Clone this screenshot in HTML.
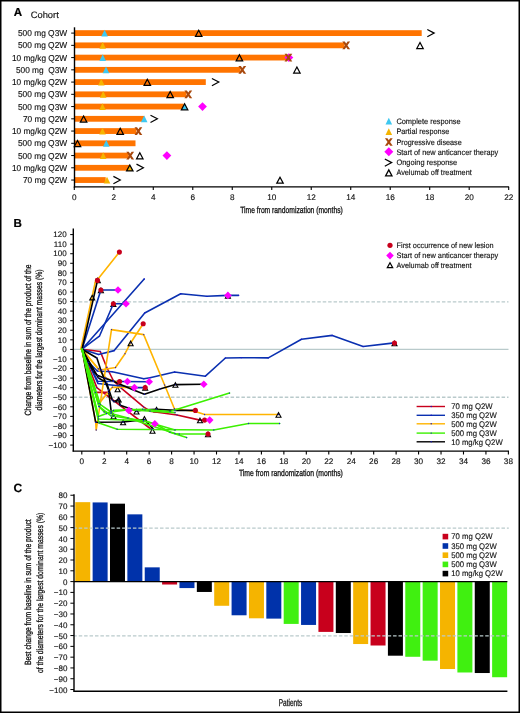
<!DOCTYPE html>
<html><head><meta charset="utf-8"><style>
html,body{margin:0;padding:0;background:#fff;}
svg{display:block;will-change:transform;}
text{font-family:"Liberation Sans", sans-serif;text-rendering:geometricPrecision;}
</style></head><body>
<svg width="520" height="713" viewBox="0 0 520 713">
<rect width="520" height="713" fill="#fff"/>
<text x="13.8" y="15.7" font-size="11.6" font-weight="bold" fill="#000" stroke="#000" stroke-width="0.2" >A</text>
<text x="30.7" y="17.8" font-size="9.3" textLength="28.1" lengthAdjust="spacingAndGlyphs" fill="#111" stroke="#111" stroke-width="0.14" >Cohort</text>
<text x="67.2" y="36.1" font-size="8.6" text-anchor="end" textLength="49.3" lengthAdjust="spacingAndGlyphs" fill="#111" stroke="#111" stroke-width="0.14" >500 mg Q3W</text>
<line x1="71.2" y1="33.1" x2="74.5" y2="33.1" stroke="#000" stroke-width="1.0" />
<text x="67.2" y="48.345" font-size="8.6" text-anchor="end" textLength="49.3" lengthAdjust="spacingAndGlyphs" fill="#111" stroke="#111" stroke-width="0.14" >500 mg Q2W</text>
<line x1="71.2" y1="45.345" x2="74.5" y2="45.345" stroke="#000" stroke-width="1.0" />
<text x="67.2" y="60.59" font-size="8.6" text-anchor="end" textLength="55.3" lengthAdjust="spacingAndGlyphs" fill="#111" stroke="#111" stroke-width="0.14" >10 mg/kg Q2W</text>
<line x1="71.2" y1="57.59" x2="74.5" y2="57.59" stroke="#000" stroke-width="1.0" />
<text x="67.2" y="72.83500000000001" font-size="8.6" text-anchor="end" textLength="51.3" lengthAdjust="spacingAndGlyphs" fill="#111" stroke="#111" stroke-width="0.14" >500 mg&#160; Q3W</text>
<line x1="71.2" y1="69.83500000000001" x2="74.5" y2="69.83500000000001" stroke="#000" stroke-width="1.0" />
<text x="67.2" y="85.08" font-size="8.6" text-anchor="end" textLength="55.3" lengthAdjust="spacingAndGlyphs" fill="#111" stroke="#111" stroke-width="0.14" >10 mg/kg Q2W</text>
<line x1="71.2" y1="82.08" x2="74.5" y2="82.08" stroke="#000" stroke-width="1.0" />
<text x="67.2" y="97.32499999999999" font-size="8.6" text-anchor="end" textLength="49.3" lengthAdjust="spacingAndGlyphs" fill="#111" stroke="#111" stroke-width="0.14" >500 mg Q3W</text>
<line x1="71.2" y1="94.32499999999999" x2="74.5" y2="94.32499999999999" stroke="#000" stroke-width="1.0" />
<text x="67.2" y="109.57" font-size="8.6" text-anchor="end" textLength="49.3" lengthAdjust="spacingAndGlyphs" fill="#111" stroke="#111" stroke-width="0.14" >500 mg Q3W</text>
<line x1="71.2" y1="106.57" x2="74.5" y2="106.57" stroke="#000" stroke-width="1.0" />
<text x="67.2" y="121.815" font-size="8.6" text-anchor="end" textLength="44.3" lengthAdjust="spacingAndGlyphs" fill="#111" stroke="#111" stroke-width="0.14" >70 mg Q2W</text>
<line x1="71.2" y1="118.815" x2="74.5" y2="118.815" stroke="#000" stroke-width="1.0" />
<text x="67.2" y="134.06" font-size="8.6" text-anchor="end" textLength="55.3" lengthAdjust="spacingAndGlyphs" fill="#111" stroke="#111" stroke-width="0.14" >10 mg/kg Q2W</text>
<line x1="71.2" y1="131.06" x2="74.5" y2="131.06" stroke="#000" stroke-width="1.0" />
<text x="67.2" y="146.305" font-size="8.6" text-anchor="end" textLength="49.3" lengthAdjust="spacingAndGlyphs" fill="#111" stroke="#111" stroke-width="0.14" >500 mg Q3W</text>
<line x1="71.2" y1="143.305" x2="74.5" y2="143.305" stroke="#000" stroke-width="1.0" />
<text x="67.2" y="158.54999999999998" font-size="8.6" text-anchor="end" textLength="49.3" lengthAdjust="spacingAndGlyphs" fill="#111" stroke="#111" stroke-width="0.14" >500 mg Q2W</text>
<line x1="71.2" y1="155.54999999999998" x2="74.5" y2="155.54999999999998" stroke="#000" stroke-width="1.0" />
<text x="67.2" y="170.795" font-size="8.6" text-anchor="end" textLength="55.3" lengthAdjust="spacingAndGlyphs" fill="#111" stroke="#111" stroke-width="0.14" >10 mg/kg Q2W</text>
<line x1="71.2" y1="167.795" x2="74.5" y2="167.795" stroke="#000" stroke-width="1.0" />
<text x="67.2" y="183.04" font-size="8.6" text-anchor="end" textLength="44.3" lengthAdjust="spacingAndGlyphs" fill="#111" stroke="#111" stroke-width="0.14" >70 mg Q2W</text>
<line x1="71.2" y1="180.04" x2="74.5" y2="180.04" stroke="#000" stroke-width="1.0" />
<rect x="74.5" y="30.20" width="347.20" height="5.8" fill="#ff7400"/>
<rect x="74.5" y="42.45" width="270.10" height="5.8" fill="#ff7400"/>
<rect x="74.5" y="54.69" width="213.00" height="5.8" fill="#ff7400"/>
<rect x="74.5" y="66.94" width="166.00" height="5.8" fill="#ff7400"/>
<rect x="74.5" y="79.18" width="131.30" height="5.8" fill="#ff7400"/>
<rect x="74.5" y="91.42" width="112.00" height="5.8" fill="#ff7400"/>
<rect x="74.5" y="103.67" width="109.20" height="5.8" fill="#ff7400"/>
<rect x="74.5" y="115.91" width="69.70" height="5.8" fill="#ff7400"/>
<rect x="74.5" y="128.16" width="62.00" height="5.8" fill="#ff7400"/>
<rect x="74.5" y="140.41" width="61.00" height="5.8" fill="#ff7400"/>
<rect x="74.5" y="152.65" width="54.30" height="5.8" fill="#ff7400"/>
<rect x="74.5" y="164.89" width="55.30" height="5.8" fill="#ff7400"/>
<rect x="74.5" y="177.14" width="31.20" height="5.8" fill="#ff7400"/>
<path d="M104.60 29.70L107.90 36.50L101.30 36.50Z" fill="#3ec8f0"/>
<path d="M198.70 30.30L201.90 36.30L195.50 36.30Z" fill="none" stroke="#000" stroke-width="1.25" stroke-linejoin="miter"/>
<path d="M427.30 29.45L434.20 33.10L427.30 36.75" stroke="#000" stroke-width="1.2" fill="none" stroke-linejoin="miter"/>
<path d="M102.70 41.95L106.00 48.74L99.40 48.74Z" fill="#f5b400"/>
<path d="M342.30 41.49L344.80 41.49L350.10 49.20L347.60 49.20ZM347.60 41.49L350.10 41.49L344.80 49.20L342.30 49.20Z" fill="#a8480c"/>
<path d="M420.00 42.55L423.20 48.55L416.80 48.55Z" fill="none" stroke="#000" stroke-width="1.25" stroke-linejoin="miter"/>
<path d="M102.70 54.19L106.00 60.99L99.40 60.99Z" fill="#3ec8f0"/>
<path d="M239.40 54.79L242.60 60.79L236.20 60.79Z" fill="none" stroke="#000" stroke-width="1.25" stroke-linejoin="miter"/>
<path d="M288.90 53.19L293.30 57.59L288.90 61.99L284.50 57.59Z" fill="#ff00ff"/>
<path d="M284.50 53.74L287.00 53.74L292.30 61.44L289.80 61.44ZM289.80 53.74L292.30 53.74L287.00 61.44L284.50 61.44Z" fill="#a8480c"/>
<path d="M106.00 66.44L109.30 73.24L102.70 73.24Z" fill="#3ec8f0"/>
<path d="M238.40 65.99L240.90 65.99L246.20 73.69L243.70 73.69ZM243.70 65.99L246.20 65.99L240.90 73.69L238.40 73.69Z" fill="#a8480c"/>
<path d="M296.90 67.04L300.10 73.04L293.70 73.04Z" fill="none" stroke="#000" stroke-width="1.25" stroke-linejoin="miter"/>
<path d="M101.30 78.68L104.60 85.48L98.00 85.48Z" fill="#f5b400"/>
<path d="M147.30 79.28L150.50 85.28L144.10 85.28Z" fill="none" stroke="#000" stroke-width="1.25" stroke-linejoin="miter"/>
<path d="M211.90 78.43L218.80 82.08L211.90 85.73" stroke="#000" stroke-width="1.2" fill="none" stroke-linejoin="miter"/>
<path d="M103.20 90.92L106.50 97.72L99.90 97.72Z" fill="#f5b400"/>
<path d="M170.20 91.52L173.40 97.52L167.00 97.52Z" fill="none" stroke="#000" stroke-width="1.25" stroke-linejoin="miter"/>
<path d="M184.40 90.47L186.90 90.47L192.20 98.17L189.70 98.17ZM189.70 90.47L192.20 90.47L186.90 98.17L184.40 98.17Z" fill="#a8480c"/>
<path d="M102.50 103.17L105.80 109.97L99.20 109.97Z" fill="#f5b400"/>
<path d="M184.60 103.77L187.80 109.77L181.40 109.77Z" fill="#3ec8f0" stroke="#000" stroke-width="1.25" stroke-linejoin="miter"/>
<path d="M202.50 102.17L206.90 106.57L202.50 110.97L198.10 106.57Z" fill="#ff00ff"/>
<path d="M83.60 116.02L86.80 122.02L80.40 122.02Z" fill="none" stroke="#000" stroke-width="1.25" stroke-linejoin="miter"/>
<path d="M144.20 115.41L147.50 122.22L140.90 122.22Z" fill="#3ec8f0"/>
<path d="M150.50 115.16L157.40 118.81L150.50 122.47" stroke="#000" stroke-width="1.2" fill="none" stroke-linejoin="miter"/>
<path d="M102.50 127.66L105.80 134.46L99.20 134.46Z" fill="#f5b400"/>
<path d="M120.20 128.26L123.40 134.26L117.00 134.26Z" fill="none" stroke="#000" stroke-width="1.25" stroke-linejoin="miter"/>
<path d="M134.50 127.21L137.00 127.21L142.30 134.91L139.80 134.91ZM139.80 127.21L142.30 127.21L137.00 134.91L134.50 134.91Z" fill="#a8480c"/>
<path d="M77.50 140.50L80.70 146.50L74.30 146.50Z" fill="none" stroke="#000" stroke-width="1.25" stroke-linejoin="miter"/>
<path d="M106.30 139.91L109.60 146.71L103.00 146.71Z" fill="#3ec8f0"/>
<path d="M103.20 152.15L106.50 158.95L99.90 158.95Z" fill="#f5b400"/>
<path d="M126.30 151.70L128.80 151.70L134.10 159.40L131.60 159.40ZM131.60 151.70L134.10 151.70L128.80 159.40L126.30 159.40Z" fill="#a8480c"/>
<path d="M139.80 152.75L143.00 158.75L136.60 158.75Z" fill="none" stroke="#000" stroke-width="1.25" stroke-linejoin="miter"/>
<path d="M166.90 151.15L171.30 155.55L166.90 159.95L162.50 155.55Z" fill="#ff00ff"/>
<path d="M129.80 164.99L133.00 170.99L126.60 170.99Z" fill="#f5b400" stroke="#000" stroke-width="1.25" stroke-linejoin="miter"/>
<path d="M136.50 164.14L143.40 167.79L136.50 171.44" stroke="#000" stroke-width="1.2" fill="none" stroke-linejoin="miter"/>
<path d="M107.00 176.64L110.30 183.44L103.70 183.44Z" fill="#f5b400"/>
<path d="M113.40 176.39L120.30 180.04L113.40 183.69" stroke="#000" stroke-width="1.2" fill="none" stroke-linejoin="miter"/>
<path d="M280.00 177.24L283.20 183.24L276.80 183.24Z" fill="none" stroke="#000" stroke-width="1.25" stroke-linejoin="miter"/>
<line x1="74.5" y1="27.3" x2="74.5" y2="187.6" stroke="#000" stroke-width="1.4" />
<line x1="73.8" y1="186.9" x2="509.1" y2="186.9" stroke="#000" stroke-width="1.4" />
<line x1="74.3" y1="186.9" x2="74.3" y2="190.0" stroke="#000" stroke-width="1.1" />
<text x="74.3" y="199.7" font-size="8.2" text-anchor="middle" fill="#111" stroke="#111" stroke-width="0.14" >0</text>
<line x1="113.78999999999999" y1="186.9" x2="113.78999999999999" y2="190.0" stroke="#000" stroke-width="1.1" />
<text x="113.78999999999999" y="199.7" font-size="8.2" text-anchor="middle" fill="#111" stroke="#111" stroke-width="0.14" >2</text>
<line x1="153.28" y1="186.9" x2="153.28" y2="190.0" stroke="#000" stroke-width="1.1" />
<text x="153.28" y="199.7" font-size="8.2" text-anchor="middle" fill="#111" stroke="#111" stroke-width="0.14" >4</text>
<line x1="192.76999999999998" y1="186.9" x2="192.76999999999998" y2="190.0" stroke="#000" stroke-width="1.1" />
<text x="192.76999999999998" y="199.7" font-size="8.2" text-anchor="middle" fill="#111" stroke="#111" stroke-width="0.14" >6</text>
<line x1="232.26" y1="186.9" x2="232.26" y2="190.0" stroke="#000" stroke-width="1.1" />
<text x="232.26" y="199.7" font-size="8.2" text-anchor="middle" fill="#111" stroke="#111" stroke-width="0.14" >8</text>
<line x1="271.75" y1="186.9" x2="271.75" y2="190.0" stroke="#000" stroke-width="1.1" />
<text x="271.75" y="199.7" font-size="8.2" text-anchor="middle" fill="#111" stroke="#111" stroke-width="0.14" >10</text>
<line x1="311.24" y1="186.9" x2="311.24" y2="190.0" stroke="#000" stroke-width="1.1" />
<text x="311.24" y="199.7" font-size="8.2" text-anchor="middle" fill="#111" stroke="#111" stroke-width="0.14" >12</text>
<line x1="350.73" y1="186.9" x2="350.73" y2="190.0" stroke="#000" stroke-width="1.1" />
<text x="350.73" y="199.7" font-size="8.2" text-anchor="middle" fill="#111" stroke="#111" stroke-width="0.14" >14</text>
<line x1="390.22" y1="186.9" x2="390.22" y2="190.0" stroke="#000" stroke-width="1.1" />
<text x="390.22" y="199.7" font-size="8.2" text-anchor="middle" fill="#111" stroke="#111" stroke-width="0.14" >16</text>
<line x1="429.71000000000004" y1="186.9" x2="429.71000000000004" y2="190.0" stroke="#000" stroke-width="1.1" />
<text x="429.71000000000004" y="199.7" font-size="8.2" text-anchor="middle" fill="#111" stroke="#111" stroke-width="0.14" >18</text>
<line x1="469.20000000000005" y1="186.9" x2="469.20000000000005" y2="190.0" stroke="#000" stroke-width="1.1" />
<text x="469.20000000000005" y="199.7" font-size="8.2" text-anchor="middle" fill="#111" stroke="#111" stroke-width="0.14" >20</text>
<line x1="508.69000000000005" y1="186.9" x2="508.69000000000005" y2="190.0" stroke="#000" stroke-width="1.1" />
<text x="508.69000000000005" y="199.7" font-size="8.2" text-anchor="middle" fill="#111" stroke="#111" stroke-width="0.14" >22</text>
<text x="240.2" y="212.8" font-size="9.0" textLength="102.6" lengthAdjust="spacingAndGlyphs" fill="#111" stroke="#111" stroke-width="0.3" >Time from randomization (months)</text>
<path d="M388.80 117.80L392.10 124.60L385.50 124.60Z" fill="#3ec8f0"/>
<text x="396.4" y="123.95" font-size="7.9" textLength="64.3" lengthAdjust="spacingAndGlyphs" fill="#111" stroke="#111" stroke-width="0.14" >Complete response</text>
<path d="M388.80 128.20L392.10 135.00L385.50 135.00Z" fill="#f5b400"/>
<text x="396.4" y="134.35" font-size="7.9" textLength="53.0" lengthAdjust="spacingAndGlyphs" fill="#111" stroke="#111" stroke-width="0.14" >Partial response</text>
<path d="M384.90 138.15L387.40 138.15L392.70 145.85L390.20 145.85ZM390.20 138.15L392.70 138.15L387.40 145.85L384.90 145.85Z" fill="#a8480c"/>
<text x="396.4" y="144.75" font-size="7.9" textLength="65.4" lengthAdjust="spacingAndGlyphs" fill="#111" stroke="#111" stroke-width="0.14" >Progressive disease</text>
<path d="M388.80 147.30L393.30 151.80L388.80 156.30L384.30 151.80Z" fill="#ff00ff"/>
<text x="396.4" y="154.55" font-size="7.9" textLength="101.9" lengthAdjust="spacingAndGlyphs" fill="#111" stroke="#111" stroke-width="0.14" >Start of new anticancer therapy</text>
<path d="M384.80 158.95L391.70 162.60L384.80 166.25" stroke="#000" stroke-width="1.2" fill="none" stroke-linejoin="miter"/>
<text x="396.4" y="165.35" font-size="7.9" textLength="60.8" lengthAdjust="spacingAndGlyphs" fill="#111" stroke="#111" stroke-width="0.14" >Ongoing response</text>
<path d="M388.80 169.90L392.00 175.90L385.60 175.90Z" fill="none" stroke="#000" stroke-width="1.25" stroke-linejoin="miter"/>
<text x="396.4" y="175.45" font-size="7.9" textLength="75.4" lengthAdjust="spacingAndGlyphs" fill="#111" stroke="#111" stroke-width="0.14" >Avelumab off treatment</text>
<text x="13.4" y="227.0" font-size="11.6" font-weight="bold" fill="#000" stroke="#000" stroke-width="0.2" >B</text>
<line x1="73.3" y1="301.86" x2="508.5" y2="301.86" stroke="#b9cacb" stroke-width="1.4" stroke-dasharray="3.5,1.92" stroke-dashoffset="-0.1"/>
<line x1="73.3" y1="397.24" x2="508.5" y2="397.24" stroke="#b9cacb" stroke-width="1.4" stroke-dasharray="3.5,1.92" stroke-dashoffset="-0.1"/>
<line x1="73.3" y1="349.40" x2="508.5" y2="349.40" stroke="#b9cacb" stroke-width="1.3"/>
<line x1="73.3" y1="228.6" x2="73.3" y2="451.6" stroke="#000" stroke-width="1.4" />
<line x1="70.2" y1="234.58399999999997" x2="73.3" y2="234.58399999999997" stroke="#000" stroke-width="1.0" />
<text x="66.6" y="237.33399999999997" font-size="8.0" text-anchor="end" fill="#111" stroke="#111" stroke-width="0.14" >120</text>
<line x1="70.2" y1="244.152" x2="73.3" y2="244.152" stroke="#000" stroke-width="1.0" />
<text x="66.6" y="246.902" font-size="8.0" text-anchor="end" fill="#111" stroke="#111" stroke-width="0.14" >110</text>
<line x1="70.2" y1="253.71999999999997" x2="73.3" y2="253.71999999999997" stroke="#000" stroke-width="1.0" />
<text x="66.6" y="256.46999999999997" font-size="8.0" text-anchor="end" fill="#111" stroke="#111" stroke-width="0.14" >100</text>
<line x1="70.2" y1="263.288" x2="73.3" y2="263.288" stroke="#000" stroke-width="1.0" />
<text x="66.6" y="266.038" font-size="8.0" text-anchor="end" fill="#111" stroke="#111" stroke-width="0.14" >90</text>
<line x1="70.2" y1="272.856" x2="73.3" y2="272.856" stroke="#000" stroke-width="1.0" />
<text x="66.6" y="275.606" font-size="8.0" text-anchor="end" fill="#111" stroke="#111" stroke-width="0.14" >80</text>
<line x1="70.2" y1="282.424" x2="73.3" y2="282.424" stroke="#000" stroke-width="1.0" />
<text x="66.6" y="285.174" font-size="8.0" text-anchor="end" fill="#111" stroke="#111" stroke-width="0.14" >70</text>
<line x1="70.2" y1="291.99199999999996" x2="73.3" y2="291.99199999999996" stroke="#000" stroke-width="1.0" />
<text x="66.6" y="294.74199999999996" font-size="8.0" text-anchor="end" fill="#111" stroke="#111" stroke-width="0.14" >60</text>
<line x1="70.2" y1="301.56" x2="73.3" y2="301.56" stroke="#000" stroke-width="1.0" />
<text x="66.6" y="304.31" font-size="8.0" text-anchor="end" fill="#111" stroke="#111" stroke-width="0.14" >50</text>
<line x1="70.2" y1="311.128" x2="73.3" y2="311.128" stroke="#000" stroke-width="1.0" />
<text x="66.6" y="313.878" font-size="8.0" text-anchor="end" fill="#111" stroke="#111" stroke-width="0.14" >40</text>
<line x1="70.2" y1="320.69599999999997" x2="73.3" y2="320.69599999999997" stroke="#000" stroke-width="1.0" />
<text x="66.6" y="323.44599999999997" font-size="8.0" text-anchor="end" fill="#111" stroke="#111" stroke-width="0.14" >30</text>
<line x1="70.2" y1="330.26399999999995" x2="73.3" y2="330.26399999999995" stroke="#000" stroke-width="1.0" />
<text x="66.6" y="333.01399999999995" font-size="8.0" text-anchor="end" fill="#111" stroke="#111" stroke-width="0.14" >20</text>
<line x1="70.2" y1="339.832" x2="73.3" y2="339.832" stroke="#000" stroke-width="1.0" />
<text x="66.6" y="342.582" font-size="8.0" text-anchor="end" fill="#111" stroke="#111" stroke-width="0.14" >10</text>
<line x1="70.2" y1="349.4" x2="73.3" y2="349.4" stroke="#000" stroke-width="1.0" />
<text x="66.6" y="352.15" font-size="8.0" text-anchor="end" fill="#111" stroke="#111" stroke-width="0.14" >0</text>
<line x1="70.2" y1="358.96799999999996" x2="73.3" y2="358.96799999999996" stroke="#000" stroke-width="1.0" />
<text x="66.6" y="361.71799999999996" font-size="8.0" text-anchor="end" fill="#111" stroke="#111" stroke-width="0.14" >&#8722;10</text>
<line x1="70.2" y1="368.536" x2="73.3" y2="368.536" stroke="#000" stroke-width="1.0" />
<text x="66.6" y="371.286" font-size="8.0" text-anchor="end" fill="#111" stroke="#111" stroke-width="0.14" >&#8722;20</text>
<line x1="70.2" y1="378.104" x2="73.3" y2="378.104" stroke="#000" stroke-width="1.0" />
<text x="66.6" y="380.854" font-size="8.0" text-anchor="end" fill="#111" stroke="#111" stroke-width="0.14" >&#8722;30</text>
<line x1="70.2" y1="387.67199999999997" x2="73.3" y2="387.67199999999997" stroke="#000" stroke-width="1.0" />
<text x="66.6" y="390.42199999999997" font-size="8.0" text-anchor="end" fill="#111" stroke="#111" stroke-width="0.14" >&#8722;40</text>
<line x1="70.2" y1="397.23999999999995" x2="73.3" y2="397.23999999999995" stroke="#000" stroke-width="1.0" />
<text x="66.6" y="399.98999999999995" font-size="8.0" text-anchor="end" fill="#111" stroke="#111" stroke-width="0.14" >&#8722;50</text>
<line x1="70.2" y1="406.808" x2="73.3" y2="406.808" stroke="#000" stroke-width="1.0" />
<text x="66.6" y="409.558" font-size="8.0" text-anchor="end" fill="#111" stroke="#111" stroke-width="0.14" >&#8722;60</text>
<line x1="70.2" y1="416.376" x2="73.3" y2="416.376" stroke="#000" stroke-width="1.0" />
<text x="66.6" y="419.126" font-size="8.0" text-anchor="end" fill="#111" stroke="#111" stroke-width="0.14" >&#8722;70</text>
<line x1="70.2" y1="425.94399999999996" x2="73.3" y2="425.94399999999996" stroke="#000" stroke-width="1.0" />
<text x="66.6" y="428.69399999999996" font-size="8.0" text-anchor="end" fill="#111" stroke="#111" stroke-width="0.14" >&#8722;80</text>
<line x1="70.2" y1="435.51199999999994" x2="73.3" y2="435.51199999999994" stroke="#000" stroke-width="1.0" />
<text x="66.6" y="438.26199999999994" font-size="8.0" text-anchor="end" fill="#111" stroke="#111" stroke-width="0.14" >&#8722;90</text>
<line x1="70.2" y1="445.08" x2="73.3" y2="445.08" stroke="#000" stroke-width="1.0" />
<text x="66.6" y="447.83" font-size="8.0" text-anchor="end" fill="#111" stroke="#111" stroke-width="0.14" >&#8722;100</text>
<line x1="72.6" y1="451.1" x2="509.0" y2="451.1" stroke="#000" stroke-width="1.4" />
<line x1="81.8" y1="451.1" x2="81.8" y2="454.5" stroke="#000" stroke-width="1.1" />
<text x="81.8" y="463.9" font-size="8.2" text-anchor="middle" fill="#111" stroke="#111" stroke-width="0.14" >0</text>
<line x1="104.252" y1="451.1" x2="104.252" y2="454.5" stroke="#000" stroke-width="1.1" />
<text x="104.252" y="463.9" font-size="8.2" text-anchor="middle" fill="#111" stroke="#111" stroke-width="0.14" >2</text>
<line x1="126.70400000000001" y1="451.1" x2="126.70400000000001" y2="454.5" stroke="#000" stroke-width="1.1" />
<text x="126.70400000000001" y="463.9" font-size="8.2" text-anchor="middle" fill="#111" stroke="#111" stroke-width="0.14" >4</text>
<line x1="149.156" y1="451.1" x2="149.156" y2="454.5" stroke="#000" stroke-width="1.1" />
<text x="149.156" y="463.9" font-size="8.2" text-anchor="middle" fill="#111" stroke="#111" stroke-width="0.14" >6</text>
<line x1="171.608" y1="451.1" x2="171.608" y2="454.5" stroke="#000" stroke-width="1.1" />
<text x="171.608" y="463.9" font-size="8.2" text-anchor="middle" fill="#111" stroke="#111" stroke-width="0.14" >8</text>
<line x1="194.06" y1="451.1" x2="194.06" y2="454.5" stroke="#000" stroke-width="1.1" />
<text x="194.06" y="463.9" font-size="8.2" text-anchor="middle" fill="#111" stroke="#111" stroke-width="0.14" >10</text>
<line x1="216.512" y1="451.1" x2="216.512" y2="454.5" stroke="#000" stroke-width="1.1" />
<text x="216.512" y="463.9" font-size="8.2" text-anchor="middle" fill="#111" stroke="#111" stroke-width="0.14" >12</text>
<line x1="238.964" y1="451.1" x2="238.964" y2="454.5" stroke="#000" stroke-width="1.1" />
<text x="238.964" y="463.9" font-size="8.2" text-anchor="middle" fill="#111" stroke="#111" stroke-width="0.14" >14</text>
<line x1="261.416" y1="451.1" x2="261.416" y2="454.5" stroke="#000" stroke-width="1.1" />
<text x="261.416" y="463.9" font-size="8.2" text-anchor="middle" fill="#111" stroke="#111" stroke-width="0.14" >16</text>
<line x1="283.868" y1="451.1" x2="283.868" y2="454.5" stroke="#000" stroke-width="1.1" />
<text x="283.868" y="463.9" font-size="8.2" text-anchor="middle" fill="#111" stroke="#111" stroke-width="0.14" >18</text>
<line x1="306.32" y1="451.1" x2="306.32" y2="454.5" stroke="#000" stroke-width="1.1" />
<text x="306.32" y="463.9" font-size="8.2" text-anchor="middle" fill="#111" stroke="#111" stroke-width="0.14" >20</text>
<line x1="328.772" y1="451.1" x2="328.772" y2="454.5" stroke="#000" stroke-width="1.1" />
<text x="328.772" y="463.9" font-size="8.2" text-anchor="middle" fill="#111" stroke="#111" stroke-width="0.14" >22</text>
<line x1="351.22400000000005" y1="451.1" x2="351.22400000000005" y2="454.5" stroke="#000" stroke-width="1.1" />
<text x="351.22400000000005" y="463.9" font-size="8.2" text-anchor="middle" fill="#111" stroke="#111" stroke-width="0.14" >24</text>
<line x1="373.67600000000004" y1="451.1" x2="373.67600000000004" y2="454.5" stroke="#000" stroke-width="1.1" />
<text x="373.67600000000004" y="463.9" font-size="8.2" text-anchor="middle" fill="#111" stroke="#111" stroke-width="0.14" >26</text>
<line x1="396.12800000000004" y1="451.1" x2="396.12800000000004" y2="454.5" stroke="#000" stroke-width="1.1" />
<text x="396.12800000000004" y="463.9" font-size="8.2" text-anchor="middle" fill="#111" stroke="#111" stroke-width="0.14" >28</text>
<line x1="418.58000000000004" y1="451.1" x2="418.58000000000004" y2="454.5" stroke="#000" stroke-width="1.1" />
<text x="418.58000000000004" y="463.9" font-size="8.2" text-anchor="middle" fill="#111" stroke="#111" stroke-width="0.14" >30</text>
<line x1="441.03200000000004" y1="451.1" x2="441.03200000000004" y2="454.5" stroke="#000" stroke-width="1.1" />
<text x="441.03200000000004" y="463.9" font-size="8.2" text-anchor="middle" fill="#111" stroke="#111" stroke-width="0.14" >32</text>
<line x1="463.48400000000004" y1="451.1" x2="463.48400000000004" y2="454.5" stroke="#000" stroke-width="1.1" />
<text x="463.48400000000004" y="463.9" font-size="8.2" text-anchor="middle" fill="#111" stroke="#111" stroke-width="0.14" >34</text>
<line x1="485.93600000000004" y1="451.1" x2="485.93600000000004" y2="454.5" stroke="#000" stroke-width="1.1" />
<text x="485.93600000000004" y="463.9" font-size="8.2" text-anchor="middle" fill="#111" stroke="#111" stroke-width="0.14" >36</text>
<line x1="508.38800000000003" y1="451.1" x2="508.38800000000003" y2="454.5" stroke="#000" stroke-width="1.1" />
<text x="508.38800000000003" y="463.9" font-size="8.2" text-anchor="middle" fill="#111" stroke="#111" stroke-width="0.14" >38</text>
<text x="238.9" y="476.2" font-size="9.0" textLength="104.0" lengthAdjust="spacingAndGlyphs" fill="#111" stroke="#111" stroke-width="0.3" >Time from randomization (months)</text>
<text x="30.7" y="340.0" font-size="9.0" text-anchor="middle" textLength="151.0" lengthAdjust="spacingAndGlyphs" fill="#111" stroke="#111" stroke-width="0.3" transform="rotate(-90 30.7 340.0)" >Change from baseline in sum of the product of the</text>
<text x="42.2" y="339.9" font-size="9.0" text-anchor="middle" textLength="141.0" lengthAdjust="spacingAndGlyphs" fill="#111" stroke="#111" stroke-width="0.3" transform="rotate(-90 42.2 339.9)" >diameters for the largest dominant masses (%)</text>
<path d="M117.60 387.10L120.10 391.70L115.10 391.70Z" fill="none" stroke="#000" stroke-width="1.1" stroke-linejoin="miter"/>
<path d="M136.50 409.40L139.00 414.00L134.00 414.00Z" fill="none" stroke="#000" stroke-width="1.1" stroke-linejoin="miter"/>
<path d="M156.50 407.30L159.00 411.90L154.00 411.90Z" fill="none" stroke="#000" stroke-width="1.1" stroke-linejoin="miter"/>
<path d="M113.50 414.10L116.00 418.70L111.00 418.70Z" fill="none" stroke="#000" stroke-width="1.1" stroke-linejoin="miter"/>
<path d="M123.10 420.10L125.60 424.70L120.60 424.70Z" fill="none" stroke="#000" stroke-width="1.1" stroke-linejoin="miter"/>
<path d="M144.40 416.60L146.90 421.20L141.90 421.20Z" fill="none" stroke="#000" stroke-width="1.1" stroke-linejoin="miter"/>
<path d="M152.50 428.60L155.00 433.20L150.00 433.20Z" fill="none" stroke="#000" stroke-width="1.1" stroke-linejoin="miter"/>
<path d="M208.00 432.10L210.50 436.70L205.50 436.70Z" fill="none" stroke="#000" stroke-width="1.1" stroke-linejoin="miter"/>
<path d="M145.20 385.70L147.70 390.30L142.70 390.30Z" fill="none" stroke="#000" stroke-width="1.1" stroke-linejoin="miter"/>
<path d="M394.50 341.20L397.00 345.80L392.00 345.80Z" fill="none" stroke="#000" stroke-width="1.1" stroke-linejoin="miter"/>
<path d="M227.90 293.50L230.40 298.10L225.40 298.10Z" fill="none" stroke="#000" stroke-width="1.1" stroke-linejoin="miter"/>
<path d="M100.90 288.10L103.40 292.70L98.40 292.70Z" fill="none" stroke="#000" stroke-width="1.1" stroke-linejoin="miter"/>
<path d="M113.40 301.90L115.90 306.50L110.90 306.50Z" fill="none" stroke="#000" stroke-width="1.1" stroke-linejoin="miter"/>
<path d="M97.80 278.10L100.30 282.70L95.30 282.70Z" fill="none" stroke="#000" stroke-width="1.1" stroke-linejoin="miter"/>
<polyline points="82.0,349.2 100.3,351.5 106.8,367.5 113.3,380.5 121.5,388.4 143.5,406.8 150.0,411.2 177.0,415.0 200.0,420.1 209.7,420.1" fill="none" stroke="#c8001c" stroke-width="1.6" stroke-linejoin="round" stroke-linecap="round"/>
<polyline points="82.0,349.2 96.8,387.6 151.5,429.5" fill="none" stroke="#c8001c" stroke-width="1.6" stroke-linejoin="round" stroke-linecap="round"/>
<polyline points="82.0,349.2 95.5,392.4 108.3,392.4" fill="none" stroke="#c8001c" stroke-width="1.6" stroke-linejoin="round" stroke-linecap="round"/>
<polyline points="82.0,349.2 100.9,290.0 118.0,290.0" fill="none" stroke="#0a30b0" stroke-width="1.6" stroke-linejoin="round" stroke-linecap="round"/>
<polyline points="82.0,349.2 99.4,336.2 113.4,303.8 126.0,303.8" fill="none" stroke="#0a30b0" stroke-width="1.6" stroke-linejoin="round" stroke-linecap="round"/>
<polyline points="82.0,349.2 144.2,279.0" fill="none" stroke="#0a30b0" stroke-width="1.6" stroke-linejoin="round" stroke-linecap="round"/>
<polyline points="82.0,349.2 98.6,354.5 114.2,350.6 144.7,313.0 180.7,293.8 206.7,296.3 227.9,295.4 238.5,295.4" fill="none" stroke="#0a30b0" stroke-width="1.6" stroke-linejoin="round" stroke-linecap="round"/>
<polyline points="82.0,349.2 88.7,362.3 97.3,371.0 112.2,371.8 143.8,378.8 150.0,377.7 174.6,372.0 205.4,376.2 225.4,358.0 241.3,357.7 268.3,357.9 301.5,339.2 332.3,335.4 363.1,346.5 392.3,343.1" fill="none" stroke="#0a30b0" stroke-width="1.6" stroke-linejoin="round" stroke-linecap="round"/>
<polyline points="82.0,349.2 97.7,381.3 119.6,381.5 149.2,381.8" fill="none" stroke="#0a30b0" stroke-width="1.6" stroke-linejoin="round" stroke-linecap="round"/>
<polyline points="82.0,349.2 98.0,383.5 134.4,387.6 145.2,387.6" fill="none" stroke="#0a30b0" stroke-width="1.6" stroke-linejoin="round" stroke-linecap="round"/>
<polyline points="80.8,349.2 95.9,279.2 98.0,279.0 119.4,252.1" fill="none" stroke="#ffb400" stroke-width="1.6" stroke-linejoin="round" stroke-linecap="round"/>
<polyline points="82.0,349.2 95.7,422.3 96.2,430.0 111.5,329.6 143.7,334.6 164.6,385.0 174.4,408.7 195.4,411.5 204.6,414.5 278.5,414.5" fill="none" stroke="#ffb400" stroke-width="1.6" stroke-linejoin="round" stroke-linecap="round"/>
<polyline points="82.0,349.2 98.2,368.8 101.6,369.7 115.5,367.5 125.0,353.7 130.6,343.0 143.2,323.8" fill="none" stroke="#ffb400" stroke-width="1.6" stroke-linejoin="round" stroke-linecap="round"/>
<polyline points="82.0,349.2 99.0,403.4 112.3,387.2 134.4,387.6" fill="none" stroke="#ffb400" stroke-width="1.6" stroke-linejoin="round" stroke-linecap="round"/>
<polyline points="82.0,349.2 98.2,368.8 106.0,377.9 112.9,381.3 118.0,381.5" fill="none" stroke="#ffb400" stroke-width="1.6" stroke-linejoin="round" stroke-linecap="round"/>
<polyline points="82.0,349.2 97.5,280.4" fill="none" stroke="#000" stroke-width="1.6" stroke-linejoin="round" stroke-linecap="round"/>
<polyline points="82.0,349.2 96.9,358.0 100.8,370.1 108.5,390.0 111.2,411.5 113.5,416.0" fill="none" stroke="#000" stroke-width="1.6" stroke-linejoin="round" stroke-linecap="round"/>
<polyline points="82.0,349.2 93.0,371.0 97.3,375.3 104.2,377.9 113.7,381.3 118.3,383.5 132.3,389.6 144.4,394.2 160.0,389.0 175.4,384.6 203.8,384.3" fill="none" stroke="#000" stroke-width="1.6" stroke-linejoin="round" stroke-linecap="round"/>
<polyline points="82.0,349.2 98.5,378.0 106.5,382.6 112.3,400.0 114.0,401.7 118.7,399.3 120.2,405.2 136.9,411.0 145.0,409.8 156.5,409.2 175.0,410.4 195.4,410.4" fill="none" stroke="#000" stroke-width="1.6" stroke-linejoin="round" stroke-linecap="round"/>
<polyline points="82.0,349.2 95.7,422.3 123.1,422.0 144.4,419.6 153.0,428.8" fill="none" stroke="#000" stroke-width="1.6" stroke-linejoin="round" stroke-linecap="round"/>
<polyline points="82.0,349.2 99.0,423.0 117.2,429.2 213.8,430.0 248.5,423.5 279.6,423.5" fill="none" stroke="#3cf000" stroke-width="1.6" stroke-linejoin="round" stroke-linecap="round"/>
<polyline points="82.0,349.2 100.4,404.6 111.0,412.0 128.8,409.8 142.7,409.2 170.0,411.5 229.5,393.1" fill="none" stroke="#3cf000" stroke-width="1.6" stroke-linejoin="round" stroke-linecap="round"/>
<polyline points="82.0,349.2 99.1,406.5 111.0,415.8 143.5,420.7 154.8,423.7 170.0,432.3 186.6,437.6" fill="none" stroke="#3cf000" stroke-width="1.6" stroke-linejoin="round" stroke-linecap="round"/>
<polyline points="82.0,349.2 98.5,416.5 106.5,413.5 113.4,410.4 128.8,409.8 175.0,412.7" fill="none" stroke="#3cf000" stroke-width="1.6" stroke-linejoin="round" stroke-linecap="round"/>
<polyline points="82.0,349.2 99.1,406.5 104.2,411.9 111.0,413.5 128.0,418.0 175.0,433.5 179.2,434.0 208.0,434.0" fill="none" stroke="#3cf000" stroke-width="1.6" stroke-linejoin="round" stroke-linecap="round"/>
<polyline points="82.0,349.2 98.6,419.0 143.5,420.7 175.0,430.0" fill="none" stroke="#3cf000" stroke-width="1.6" stroke-linejoin="round" stroke-linecap="round"/>
<circle cx="100.3" cy="351.5" r="0.65" fill="#1a1acc"/>
<circle cx="106.8" cy="367.5" r="0.65" fill="#1a1acc"/>
<circle cx="113.3" cy="380.5" r="0.65" fill="#1a1acc"/>
<circle cx="121.5" cy="388.4" r="0.65" fill="#1a1acc"/>
<circle cx="143.5" cy="406.8" r="0.65" fill="#1a1acc"/>
<circle cx="150.0" cy="411.2" r="0.65" fill="#1a1acc"/>
<circle cx="177.0" cy="415.0" r="0.65" fill="#1a1acc"/>
<circle cx="200.0" cy="420.1" r="0.65" fill="#1a1acc"/>
<circle cx="209.7" cy="420.1" r="0.65" fill="#1a1acc"/>
<circle cx="96.8" cy="387.6" r="0.65" fill="#1a1acc"/>
<circle cx="151.5" cy="429.5" r="0.65" fill="#1a1acc"/>
<circle cx="95.5" cy="392.4" r="0.65" fill="#1a1acc"/>
<circle cx="108.3" cy="392.4" r="0.65" fill="#1a1acc"/>
<circle cx="100.9" cy="290.0" r="0.65" fill="#1a1acc"/>
<circle cx="118.0" cy="290.0" r="0.65" fill="#1a1acc"/>
<circle cx="99.4" cy="336.2" r="0.65" fill="#1a1acc"/>
<circle cx="113.4" cy="303.8" r="0.65" fill="#1a1acc"/>
<circle cx="126.0" cy="303.8" r="0.65" fill="#1a1acc"/>
<circle cx="144.2" cy="279.0" r="0.65" fill="#1a1acc"/>
<circle cx="98.6" cy="354.5" r="0.65" fill="#1a1acc"/>
<circle cx="114.2" cy="350.6" r="0.65" fill="#1a1acc"/>
<circle cx="144.7" cy="313.0" r="0.65" fill="#1a1acc"/>
<circle cx="180.7" cy="293.8" r="0.65" fill="#1a1acc"/>
<circle cx="206.7" cy="296.3" r="0.65" fill="#1a1acc"/>
<circle cx="227.9" cy="295.4" r="0.65" fill="#1a1acc"/>
<circle cx="238.5" cy="295.4" r="0.65" fill="#1a1acc"/>
<circle cx="88.7" cy="362.3" r="0.65" fill="#1a1acc"/>
<circle cx="97.3" cy="371.0" r="0.65" fill="#1a1acc"/>
<circle cx="112.2" cy="371.8" r="0.65" fill="#1a1acc"/>
<circle cx="143.8" cy="378.8" r="0.65" fill="#1a1acc"/>
<circle cx="150.0" cy="377.7" r="0.65" fill="#1a1acc"/>
<circle cx="174.6" cy="372.0" r="0.65" fill="#1a1acc"/>
<circle cx="205.4" cy="376.2" r="0.65" fill="#1a1acc"/>
<circle cx="225.4" cy="358.0" r="0.65" fill="#1a1acc"/>
<circle cx="241.3" cy="357.7" r="0.65" fill="#1a1acc"/>
<circle cx="268.3" cy="357.9" r="0.65" fill="#1a1acc"/>
<circle cx="301.5" cy="339.2" r="0.65" fill="#1a1acc"/>
<circle cx="332.3" cy="335.4" r="0.65" fill="#1a1acc"/>
<circle cx="363.1" cy="346.5" r="0.65" fill="#1a1acc"/>
<circle cx="392.3" cy="343.1" r="0.65" fill="#1a1acc"/>
<circle cx="97.7" cy="381.3" r="0.65" fill="#1a1acc"/>
<circle cx="119.6" cy="381.5" r="0.65" fill="#1a1acc"/>
<circle cx="149.2" cy="381.8" r="0.65" fill="#1a1acc"/>
<circle cx="98.0" cy="383.5" r="0.65" fill="#1a1acc"/>
<circle cx="134.4" cy="387.6" r="0.65" fill="#1a1acc"/>
<circle cx="145.2" cy="387.6" r="0.65" fill="#1a1acc"/>
<circle cx="95.9" cy="279.2" r="0.65" fill="#1a1acc"/>
<circle cx="98.0" cy="279.0" r="0.65" fill="#1a1acc"/>
<circle cx="119.4" cy="252.1" r="0.65" fill="#1a1acc"/>
<circle cx="95.7" cy="422.3" r="0.65" fill="#1a1acc"/>
<circle cx="96.2" cy="430.0" r="0.65" fill="#1a1acc"/>
<circle cx="111.5" cy="329.6" r="0.65" fill="#1a1acc"/>
<circle cx="143.7" cy="334.6" r="0.65" fill="#1a1acc"/>
<circle cx="164.6" cy="385.0" r="0.65" fill="#1a1acc"/>
<circle cx="174.4" cy="408.7" r="0.65" fill="#1a1acc"/>
<circle cx="195.4" cy="411.5" r="0.65" fill="#1a1acc"/>
<circle cx="204.6" cy="414.5" r="0.65" fill="#1a1acc"/>
<circle cx="278.5" cy="414.5" r="0.65" fill="#1a1acc"/>
<circle cx="98.2" cy="368.8" r="0.65" fill="#1a1acc"/>
<circle cx="101.6" cy="369.7" r="0.65" fill="#1a1acc"/>
<circle cx="115.5" cy="367.5" r="0.65" fill="#1a1acc"/>
<circle cx="125.0" cy="353.7" r="0.65" fill="#1a1acc"/>
<circle cx="130.6" cy="343.0" r="0.65" fill="#1a1acc"/>
<circle cx="143.2" cy="323.8" r="0.65" fill="#1a1acc"/>
<circle cx="99.0" cy="403.4" r="0.65" fill="#1a1acc"/>
<circle cx="112.3" cy="387.2" r="0.65" fill="#1a1acc"/>
<circle cx="134.4" cy="387.6" r="0.65" fill="#1a1acc"/>
<circle cx="98.2" cy="368.8" r="0.65" fill="#1a1acc"/>
<circle cx="106.0" cy="377.9" r="0.65" fill="#1a1acc"/>
<circle cx="112.9" cy="381.3" r="0.65" fill="#1a1acc"/>
<circle cx="118.0" cy="381.5" r="0.65" fill="#1a1acc"/>
<circle cx="97.5" cy="280.4" r="0.65" fill="#1a1acc"/>
<circle cx="96.9" cy="358.0" r="0.65" fill="#1a1acc"/>
<circle cx="100.8" cy="370.1" r="0.65" fill="#1a1acc"/>
<circle cx="108.5" cy="390.0" r="0.65" fill="#1a1acc"/>
<circle cx="111.2" cy="411.5" r="0.65" fill="#1a1acc"/>
<circle cx="113.5" cy="416.0" r="0.65" fill="#1a1acc"/>
<circle cx="93.0" cy="371.0" r="0.65" fill="#1a1acc"/>
<circle cx="97.3" cy="375.3" r="0.65" fill="#1a1acc"/>
<circle cx="104.2" cy="377.9" r="0.65" fill="#1a1acc"/>
<circle cx="113.7" cy="381.3" r="0.65" fill="#1a1acc"/>
<circle cx="118.3" cy="383.5" r="0.65" fill="#1a1acc"/>
<circle cx="132.3" cy="389.6" r="0.65" fill="#1a1acc"/>
<circle cx="144.4" cy="394.2" r="0.65" fill="#1a1acc"/>
<circle cx="160.0" cy="389.0" r="0.65" fill="#1a1acc"/>
<circle cx="175.4" cy="384.6" r="0.65" fill="#1a1acc"/>
<circle cx="203.8" cy="384.3" r="0.65" fill="#1a1acc"/>
<circle cx="98.5" cy="378.0" r="0.65" fill="#1a1acc"/>
<circle cx="106.5" cy="382.6" r="0.65" fill="#1a1acc"/>
<circle cx="112.3" cy="400.0" r="0.65" fill="#1a1acc"/>
<circle cx="114.0" cy="401.7" r="0.65" fill="#1a1acc"/>
<circle cx="118.7" cy="399.3" r="0.65" fill="#1a1acc"/>
<circle cx="120.2" cy="405.2" r="0.65" fill="#1a1acc"/>
<circle cx="136.9" cy="411.0" r="0.65" fill="#1a1acc"/>
<circle cx="145.0" cy="409.8" r="0.65" fill="#1a1acc"/>
<circle cx="156.5" cy="409.2" r="0.65" fill="#1a1acc"/>
<circle cx="175.0" cy="410.4" r="0.65" fill="#1a1acc"/>
<circle cx="195.4" cy="410.4" r="0.65" fill="#1a1acc"/>
<circle cx="95.7" cy="422.3" r="0.65" fill="#1a1acc"/>
<circle cx="123.1" cy="422.0" r="0.65" fill="#1a1acc"/>
<circle cx="144.4" cy="419.6" r="0.65" fill="#1a1acc"/>
<circle cx="153.0" cy="428.8" r="0.65" fill="#1a1acc"/>
<circle cx="99.0" cy="423.0" r="0.65" fill="#1a1acc"/>
<circle cx="117.2" cy="429.2" r="0.65" fill="#1a1acc"/>
<circle cx="213.8" cy="430.0" r="0.65" fill="#1a1acc"/>
<circle cx="248.5" cy="423.5" r="0.65" fill="#1a1acc"/>
<circle cx="279.6" cy="423.5" r="0.65" fill="#1a1acc"/>
<circle cx="100.4" cy="404.6" r="0.65" fill="#1a1acc"/>
<circle cx="111.0" cy="412.0" r="0.65" fill="#1a1acc"/>
<circle cx="128.8" cy="409.8" r="0.65" fill="#1a1acc"/>
<circle cx="142.7" cy="409.2" r="0.65" fill="#1a1acc"/>
<circle cx="170.0" cy="411.5" r="0.65" fill="#1a1acc"/>
<circle cx="229.5" cy="393.1" r="0.65" fill="#1a1acc"/>
<circle cx="99.1" cy="406.5" r="0.65" fill="#1a1acc"/>
<circle cx="111.0" cy="415.8" r="0.65" fill="#1a1acc"/>
<circle cx="143.5" cy="420.7" r="0.65" fill="#1a1acc"/>
<circle cx="154.8" cy="423.7" r="0.65" fill="#1a1acc"/>
<circle cx="170.0" cy="432.3" r="0.65" fill="#1a1acc"/>
<circle cx="186.6" cy="437.6" r="0.65" fill="#1a1acc"/>
<circle cx="98.5" cy="416.5" r="0.65" fill="#1a1acc"/>
<circle cx="106.5" cy="413.5" r="0.65" fill="#1a1acc"/>
<circle cx="113.4" cy="410.4" r="0.65" fill="#1a1acc"/>
<circle cx="128.8" cy="409.8" r="0.65" fill="#1a1acc"/>
<circle cx="175.0" cy="412.7" r="0.65" fill="#1a1acc"/>
<circle cx="99.1" cy="406.5" r="0.65" fill="#1a1acc"/>
<circle cx="104.2" cy="411.9" r="0.65" fill="#1a1acc"/>
<circle cx="111.0" cy="413.5" r="0.65" fill="#1a1acc"/>
<circle cx="128.0" cy="418.0" r="0.65" fill="#1a1acc"/>
<circle cx="175.0" cy="433.5" r="0.65" fill="#1a1acc"/>
<circle cx="179.2" cy="434.0" r="0.65" fill="#1a1acc"/>
<circle cx="208.0" cy="434.0" r="0.65" fill="#1a1acc"/>
<circle cx="98.6" cy="419.0" r="0.65" fill="#1a1acc"/>
<circle cx="143.5" cy="420.7" r="0.65" fill="#1a1acc"/>
<circle cx="175.0" cy="430.0" r="0.65" fill="#1a1acc"/>
<path d="M92.20 295.30L94.70 299.90L89.70 299.90Z" fill="none" stroke="#000" stroke-width="1.1" stroke-linejoin="miter"/>
<path d="M130.60 341.10L133.10 345.70L128.10 345.70Z" fill="none" stroke="#000" stroke-width="1.1" stroke-linejoin="miter"/>
<path d="M175.40 382.70L177.90 387.30L172.90 387.30Z" fill="none" stroke="#000" stroke-width="1.1" stroke-linejoin="miter"/>
<path d="M278.50 412.60L281.00 417.20L276.00 417.20Z" fill="none" stroke="#000" stroke-width="1.1" stroke-linejoin="miter"/>
<path d="M118.70 397.40L121.20 402.00L116.20 402.00Z" fill="none" stroke="#000" stroke-width="1.1" stroke-linejoin="miter"/>
<path d="M200.00 418.20L202.50 422.80L197.50 422.80Z" fill="none" stroke="#000" stroke-width="1.1" stroke-linejoin="miter"/>
<circle cx="119.40" cy="252.10" r="2.55" fill="#c8001c"/>
<circle cx="97.50" cy="280.40" r="2.55" fill="#c8001c"/>
<circle cx="100.90" cy="290.00" r="2.55" fill="#c8001c"/>
<circle cx="113.40" cy="303.80" r="2.55" fill="#c8001c"/>
<circle cx="143.20" cy="323.80" r="2.55" fill="#c8001c"/>
<circle cx="119.60" cy="381.50" r="2.55" fill="#c8001c"/>
<circle cx="145.20" cy="387.60" r="2.55" fill="#c8001c"/>
<circle cx="195.40" cy="410.40" r="2.55" fill="#c8001c"/>
<circle cx="204.60" cy="420.10" r="2.55" fill="#c8001c"/>
<circle cx="208.00" cy="434.00" r="2.55" fill="#c8001c"/>
<circle cx="394.50" cy="343.10" r="2.55" fill="#c8001c"/>
<path d="M118.00 286.20L121.80 290.00L118.00 293.80L114.20 290.00Z" fill="#ff00ff"/>
<path d="M126.00 300.00L129.80 303.80L126.00 307.60L122.20 303.80Z" fill="#ff00ff"/>
<path d="M227.90 291.60L231.70 295.40L227.90 299.20L224.10 295.40Z" fill="#ff00ff"/>
<path d="M127.40 377.70L131.20 381.50L127.40 385.30L123.60 381.50Z" fill="#ff00ff"/>
<path d="M149.20 378.00L153.00 381.80L149.20 385.60L145.40 381.80Z" fill="#ff00ff"/>
<path d="M134.40 383.80L138.20 387.60L134.40 391.40L130.60 387.60Z" fill="#ff00ff"/>
<path d="M203.80 380.50L207.60 384.30L203.80 388.10L200.00 384.30Z" fill="#ff00ff"/>
<path d="M128.80 406.60L132.60 410.40L128.80 414.20L125.00 410.40Z" fill="#ff00ff"/>
<path d="M154.80 419.90L158.60 423.70L154.80 427.50L151.00 423.70Z" fill="#ff00ff"/>
<path d="M209.70 416.30L213.50 420.10L209.70 423.90L205.90 420.10Z" fill="#ff00ff"/>
<circle cx="390.00" cy="245.30" r="2.6" fill="#c8001c"/>
<text x="396.6" y="248.0" font-size="7.8" textLength="97.0" lengthAdjust="spacingAndGlyphs" fill="#111" stroke="#111" stroke-width="0.14" >First occurrence of new lesion</text>
<path d="M390.00 251.80L393.80 255.60L390.00 259.40L386.20 255.60Z" fill="#ff00ff"/>
<text x="396.6" y="258.3" font-size="7.8" textLength="101.6" lengthAdjust="spacingAndGlyphs" fill="#111" stroke="#111" stroke-width="0.14" >Start of new anticancer therapy</text>
<path d="M390.00 262.70L392.70 267.70L387.30 267.70Z" fill="none" stroke="#000" stroke-width="1.2" stroke-linejoin="miter"/>
<text x="396.6" y="267.7" font-size="7.8" textLength="75.0" lengthAdjust="spacingAndGlyphs" fill="#111" stroke="#111" stroke-width="0.14" >Avelumab off treatment</text>
<line x1="416.6" y1="406.5" x2="445" y2="406.5" stroke="#c8001c" stroke-width="1.4" />
<circle cx="431.2" cy="406.5" r="0.7" fill="#1010c0"/>
<text x="451.2" y="409.35" font-size="8.1" textLength="41.5" lengthAdjust="spacingAndGlyphs" fill="#111" stroke="#111" stroke-width="0.14" >70 mg Q2W</text>
<line x1="416.6" y1="415.3" x2="445" y2="415.3" stroke="#0a30b0" stroke-width="1.4" />
<circle cx="431.2" cy="415.3" r="0.7" fill="#1010c0"/>
<text x="451.2" y="418.15000000000003" font-size="8.1" textLength="45.5" lengthAdjust="spacingAndGlyphs" fill="#111" stroke="#111" stroke-width="0.14" >350 mg Q2W</text>
<line x1="416.6" y1="423.8" x2="445" y2="423.8" stroke="#ffb400" stroke-width="1.4" />
<circle cx="431.2" cy="423.8" r="0.7" fill="#1010c0"/>
<text x="451.2" y="426.65000000000003" font-size="8.1" textLength="45.5" lengthAdjust="spacingAndGlyphs" fill="#111" stroke="#111" stroke-width="0.14" >500 mg Q2W</text>
<line x1="416.6" y1="433.1" x2="445" y2="433.1" stroke="#3cf000" stroke-width="1.4" />
<circle cx="431.2" cy="433.1" r="0.7" fill="#1010c0"/>
<text x="451.2" y="435.95000000000005" font-size="8.1" textLength="45.5" lengthAdjust="spacingAndGlyphs" fill="#111" stroke="#111" stroke-width="0.14" >500 mg Q3W</text>
<line x1="416.6" y1="441.8" x2="445" y2="441.8" stroke="#000" stroke-width="1.4" />
<circle cx="431.2" cy="441.8" r="0.7" fill="#1010c0"/>
<text x="451.2" y="444.65000000000003" font-size="8.1" textLength="51.5" lengthAdjust="spacingAndGlyphs" fill="#111" stroke="#111" stroke-width="0.14" >10 mg/kg Q2W</text>
<text x="13.5" y="491.7" font-size="12.0" font-weight="bold" fill="#000" stroke="#000" stroke-width="0.2" >C</text>
<rect x="75.25" y="502.16" width="15.0" height="79.44" fill="#f5b400"/>
<rect x="92.62" y="502.43" width="15.0" height="79.17" fill="#0032aa"/>
<rect x="109.99" y="503.67" width="15.0" height="77.93" fill="#000"/>
<rect x="127.36" y="514.35" width="15.0" height="67.25" fill="#0032aa"/>
<rect x="144.73" y="567.35" width="15.0" height="14.25" fill="#0032aa"/>
<rect x="162.10" y="581.60" width="15.0" height="2.91" fill="#c8001c"/>
<rect x="179.47" y="581.60" width="15.0" height="6.48" fill="#0032aa"/>
<rect x="196.84" y="581.60" width="15.0" height="10.36" fill="#000"/>
<rect x="214.21" y="581.60" width="15.0" height="24.18" fill="#f5b400"/>
<rect x="231.58" y="581.60" width="15.0" height="33.68" fill="#0032aa"/>
<rect x="248.95" y="581.60" width="15.0" height="36.70" fill="#f5b400"/>
<rect x="266.32" y="581.60" width="15.0" height="37.02" fill="#0032aa"/>
<rect x="283.69" y="581.60" width="15.0" height="42.31" fill="#40f010"/>
<rect x="301.06" y="581.60" width="15.0" height="43.34" fill="#0032aa"/>
<rect x="318.43" y="581.60" width="15.0" height="50.30" fill="#c8001c"/>
<rect x="335.80" y="581.60" width="15.0" height="51.43" fill="#000"/>
<rect x="353.17" y="581.60" width="15.0" height="62.44" fill="#f5b400"/>
<rect x="370.54" y="581.60" width="15.0" height="63.90" fill="#c8001c"/>
<rect x="387.91" y="581.60" width="15.0" height="74.10" fill="#000"/>
<rect x="405.28" y="581.60" width="15.0" height="75.18" fill="#40f010"/>
<rect x="422.65" y="581.60" width="15.0" height="79.07" fill="#40f010"/>
<rect x="440.02" y="581.60" width="15.0" height="87.43" fill="#f5b400"/>
<rect x="457.39" y="581.60" width="15.0" height="90.89" fill="#40f010"/>
<rect x="474.76" y="581.60" width="15.0" height="91.43" fill="#000"/>
<rect x="492.13" y="581.60" width="15.0" height="95.63" fill="#40f010"/>
<line x1="74.0" y1="528.13" x2="508.8" y2="528.13" stroke="#b9cacb" stroke-width="1.4" stroke-dasharray="3.5,1.92" stroke-dashoffset="0.7"/>
<line x1="74.0" y1="635.87" x2="508.8" y2="635.87" stroke="#b9cacb" stroke-width="1.4" stroke-dasharray="3.5,1.92" stroke-dashoffset="0.7"/>
<line x1="74.0" y1="581.6" x2="507.4" y2="581.6" stroke="#000" stroke-width="1.3" />
<line x1="74.0" y1="494.2" x2="74.0" y2="691.6" stroke="#000" stroke-width="1.4" />
<line x1="73.3" y1="691.3" x2="507.4" y2="691.3" stroke="#000" stroke-width="1.5" />
<line x1="70.4" y1="495.24800000000005" x2="74.0" y2="495.24800000000005" stroke="#000" stroke-width="1.0" />
<text x="67.4" y="498.34800000000007" font-size="8.0" text-anchor="end" fill="#111" stroke="#111" stroke-width="0.14" >80</text>
<line x1="70.4" y1="506.04200000000003" x2="74.0" y2="506.04200000000003" stroke="#000" stroke-width="1.0" />
<text x="67.4" y="509.14200000000005" font-size="8.0" text-anchor="end" fill="#111" stroke="#111" stroke-width="0.14" >70</text>
<line x1="70.4" y1="516.836" x2="74.0" y2="516.836" stroke="#000" stroke-width="1.0" />
<text x="67.4" y="519.936" font-size="8.0" text-anchor="end" fill="#111" stroke="#111" stroke-width="0.14" >60</text>
<line x1="70.4" y1="527.63" x2="74.0" y2="527.63" stroke="#000" stroke-width="1.0" />
<text x="67.4" y="530.73" font-size="8.0" text-anchor="end" fill="#111" stroke="#111" stroke-width="0.14" >50</text>
<line x1="70.4" y1="538.424" x2="74.0" y2="538.424" stroke="#000" stroke-width="1.0" />
<text x="67.4" y="541.524" font-size="8.0" text-anchor="end" fill="#111" stroke="#111" stroke-width="0.14" >40</text>
<line x1="70.4" y1="549.2180000000001" x2="74.0" y2="549.2180000000001" stroke="#000" stroke-width="1.0" />
<text x="67.4" y="552.3180000000001" font-size="8.0" text-anchor="end" fill="#111" stroke="#111" stroke-width="0.14" >30</text>
<line x1="70.4" y1="560.0120000000001" x2="74.0" y2="560.0120000000001" stroke="#000" stroke-width="1.0" />
<text x="67.4" y="563.1120000000001" font-size="8.0" text-anchor="end" fill="#111" stroke="#111" stroke-width="0.14" >20</text>
<line x1="70.4" y1="570.806" x2="74.0" y2="570.806" stroke="#000" stroke-width="1.0" />
<text x="67.4" y="573.9060000000001" font-size="8.0" text-anchor="end" fill="#111" stroke="#111" stroke-width="0.14" >10</text>
<line x1="70.4" y1="581.6" x2="74.0" y2="581.6" stroke="#000" stroke-width="1.0" />
<text x="67.4" y="584.7" font-size="8.0" text-anchor="end" fill="#111" stroke="#111" stroke-width="0.14" >0</text>
<line x1="70.4" y1="592.394" x2="74.0" y2="592.394" stroke="#000" stroke-width="1.0" />
<text x="67.4" y="595.494" font-size="8.0" text-anchor="end" fill="#111" stroke="#111" stroke-width="0.14" >&#8722;10</text>
<line x1="70.4" y1="603.188" x2="74.0" y2="603.188" stroke="#000" stroke-width="1.0" />
<text x="67.4" y="606.288" font-size="8.0" text-anchor="end" fill="#111" stroke="#111" stroke-width="0.14" >&#8722;20</text>
<line x1="70.4" y1="613.982" x2="74.0" y2="613.982" stroke="#000" stroke-width="1.0" />
<text x="67.4" y="617.082" font-size="8.0" text-anchor="end" fill="#111" stroke="#111" stroke-width="0.14" >&#8722;30</text>
<line x1="70.4" y1="624.7760000000001" x2="74.0" y2="624.7760000000001" stroke="#000" stroke-width="1.0" />
<text x="67.4" y="627.8760000000001" font-size="8.0" text-anchor="end" fill="#111" stroke="#111" stroke-width="0.14" >&#8722;40</text>
<line x1="70.4" y1="635.57" x2="74.0" y2="635.57" stroke="#000" stroke-width="1.0" />
<text x="67.4" y="638.6700000000001" font-size="8.0" text-anchor="end" fill="#111" stroke="#111" stroke-width="0.14" >&#8722;50</text>
<line x1="70.4" y1="646.364" x2="74.0" y2="646.364" stroke="#000" stroke-width="1.0" />
<text x="67.4" y="649.464" font-size="8.0" text-anchor="end" fill="#111" stroke="#111" stroke-width="0.14" >&#8722;60</text>
<line x1="70.4" y1="657.158" x2="74.0" y2="657.158" stroke="#000" stroke-width="1.0" />
<text x="67.4" y="660.258" font-size="8.0" text-anchor="end" fill="#111" stroke="#111" stroke-width="0.14" >&#8722;70</text>
<line x1="70.4" y1="667.952" x2="74.0" y2="667.952" stroke="#000" stroke-width="1.0" />
<text x="67.4" y="671.052" font-size="8.0" text-anchor="end" fill="#111" stroke="#111" stroke-width="0.14" >&#8722;80</text>
<line x1="70.4" y1="678.746" x2="74.0" y2="678.746" stroke="#000" stroke-width="1.0" />
<text x="67.4" y="681.846" font-size="8.0" text-anchor="end" fill="#111" stroke="#111" stroke-width="0.14" >&#8722;90</text>
<line x1="70.4" y1="689.54" x2="74.0" y2="689.54" stroke="#000" stroke-width="1.0" />
<text x="67.4" y="692.64" font-size="8.0" text-anchor="end" fill="#111" stroke="#111" stroke-width="0.14" >&#8722;100</text>
<text x="290.5" y="705.8" font-size="9.9" text-anchor="middle" textLength="23.6" lengthAdjust="spacingAndGlyphs" fill="#111" stroke="#111" stroke-width="0.3" >Patients</text>
<text x="30.9" y="592.2" font-size="9.0" text-anchor="middle" textLength="145.8" lengthAdjust="spacingAndGlyphs" fill="#111" stroke="#111" stroke-width="0.3" transform="rotate(-90 30.9 592.2)" >Best change from baseline in sum of the product</text>
<text x="42.6" y="592.9" font-size="9.0" text-anchor="middle" textLength="160.4" lengthAdjust="spacingAndGlyphs" fill="#111" stroke="#111" stroke-width="0.3" transform="rotate(-90 42.6 592.9)" >of the diameters for the largest dominant masses (%)</text>
<rect x="442.6" y="533.80" width="5.6" height="5.6" fill="#c8001c"/>
<text x="451.2" y="539.45" font-size="8.1" textLength="41.5" lengthAdjust="spacingAndGlyphs" fill="#111" stroke="#111" stroke-width="0.14" >70 mg Q2W</text>
<rect x="442.6" y="543.20" width="5.6" height="5.6" fill="#0032aa"/>
<text x="451.2" y="548.85" font-size="8.1" textLength="45.5" lengthAdjust="spacingAndGlyphs" fill="#111" stroke="#111" stroke-width="0.14" >350 mg Q2W</text>
<rect x="442.6" y="552.40" width="5.6" height="5.6" fill="#f5b400"/>
<text x="451.2" y="558.0500000000001" font-size="8.1" textLength="45.5" lengthAdjust="spacingAndGlyphs" fill="#111" stroke="#111" stroke-width="0.14" >500 mg Q2W</text>
<rect x="442.6" y="561.60" width="5.6" height="5.6" fill="#40f010"/>
<text x="451.2" y="567.25" font-size="8.1" textLength="45.5" lengthAdjust="spacingAndGlyphs" fill="#111" stroke="#111" stroke-width="0.14" >500 mg Q3W</text>
<rect x="442.6" y="570.80" width="5.6" height="5.6" fill="#000"/>
<text x="451.2" y="576.45" font-size="8.1" textLength="51.5" lengthAdjust="spacingAndGlyphs" fill="#111" stroke="#111" stroke-width="0.14" >10 mg/kg Q2W</text>
<rect x="0.75" y="0.75" width="518.5" height="711.5" fill="none" stroke="#000" stroke-width="1.5"/>
</svg>
</body></html>
